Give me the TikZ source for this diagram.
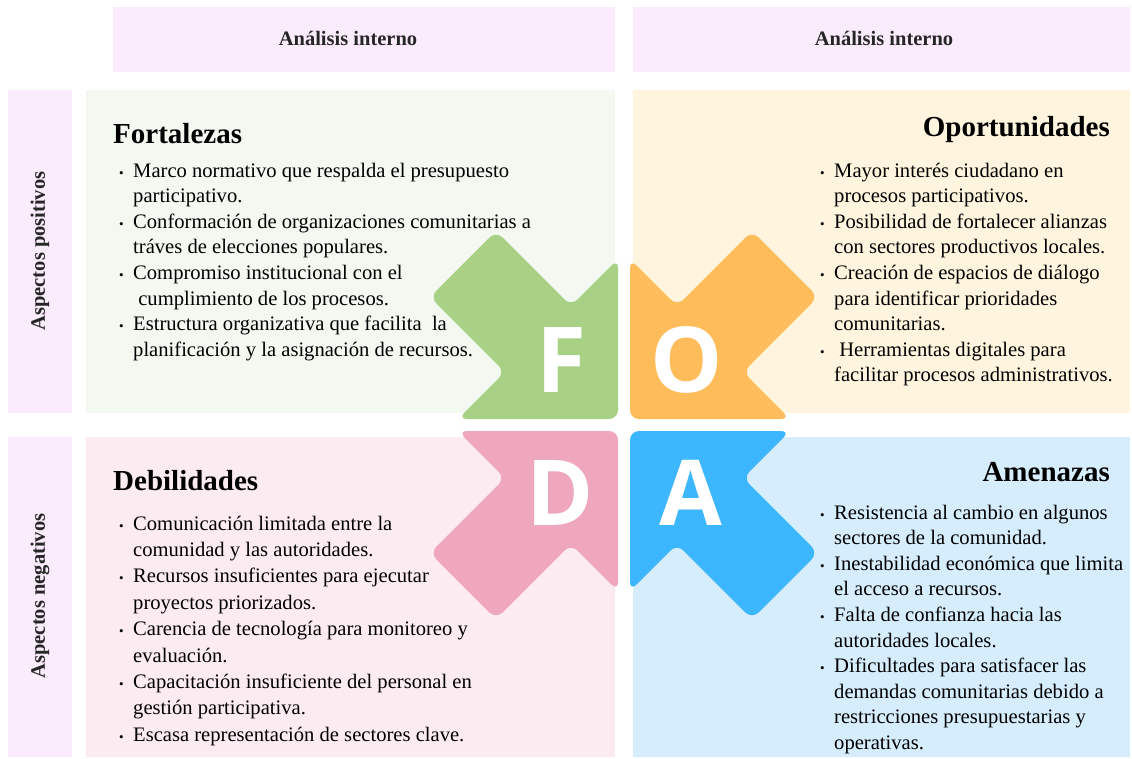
\documentclass[tikz,border=0pt]{standalone}
\usepackage{fontspec}
\setmainfont{Liberation Serif}
\newfontfamily\letterfont{Open Sans}

\definecolor{headbg}{RGB}{250,235,253}
\definecolor{fbg}{RGB}{243,248,240}
\definecolor{obg}{RGB}{255,245,222}
\definecolor{dbg}{RGB}{252,236,242}
\definecolor{abg}{RGB}{214,237,253}
\definecolor{arrF}{RGB}{168,209,134}
\definecolor{arrO}{RGB}{255,188,90}
\definecolor{arrD}{RGB}{239,167,190}
\definecolor{arrA}{RGB}{60,182,253}

\newcommand{\bul}{\makebox[14pt][l]{\fontsize{13}{13}\selectfont\textbullet}}

\begin{document}
\begin{tikzpicture}[x=1pt,y=-1pt,
  head/.style={font=\fontsize{20.5}{24}\selectfont\bfseries,text=black!85,inner sep=0pt},
  side/.style={head,rotate=90},
  title/.style={font=\fontsize{29}{34}\selectfont\bfseries,inner sep=0pt},
  body/.style={font=\fontsize{20.6}{25.6}\selectfont,inner sep=0pt,anchor=base west},
  letter/.style={font=\fontsize{91}{91}\letterfont\bfseries,text=white,inner sep=0pt}]

\useasboundingbox (0,0) rectangle (1132,758);

% headers and side bars
\fill[color=headbg] (113,7) rectangle (615,72);
\fill[color=headbg] (633,7) rectangle (1130,72);
\fill[color=headbg] (8,90) rectangle (72,413);
\fill[color=headbg] (8,437) rectangle (72,757);

\node[head] (hL) at (348,38) {Análisis interno};
\node[head] (hR) at (884,38) {Análisis interno};
\node[side] (pos) at (40,251) {Aspectos positivos};
\node[side] (neg) at (40,596) {Aspectos negativos};

% quadrants
\fill[color=fbg] (86,90) rectangle (615,413);
\fill[color=obg] (633,90) rectangle (1130,413);
\fill[color=dbg] (86,437) rectangle (615,757);
\fill[color=abg] (633,437) rectangle (1130,757);

% the four arrows
\foreach \sx/\sy/\col in {1/1/arrF,-1/1/arrO,1/-1/arrD,-1/-1/arrA}
  \fill[color=\col,rounded corners=9pt,shift={(624,425)},xscale=\sx,yscale=\sy]
    (-6,-6) -- (-6,-166) -- (-53,-119) -- (-128,-194) -- (-194,-128)
    -- (-119,-53) -- (-166,-6) -- cycle;

\node[letter] (F) at (561,360) {F};
\node[letter] (O) at (687,360) {O};
\node[letter] (D) at (560,493) {D};
\node[letter] (A) at (691,493) {A};

% titles
\node[title,anchor=base west] (tF) at (113,143) {Fortalezas};
\node[title,anchor=base east] (tO) at (1110,136) {Oportunidades};
\node[title,anchor=base west] (tD) at (113,490) {Debilidades};
\node[title,anchor=base east] (tA) at (1110,481) {Amenazas};

% lists
\node[body] (lF) at (119,177) {\begin{tabular}[t]{@{}l@{}l@{}}
\bul & Marco normativo que respalda el presupuesto\\
 & participativo.\\
\bul & Conformación de organizaciones comunitarias a\\
 & tráves de elecciones populares.\\
\bul & Compromiso institucional con el\\
 & \ cumplimiento de los procesos.\\
\bul & Estructura organizativa que facilita\ \ la\\
 & planificación y la asignación de recursos.
\end{tabular}};

\node[body] (lO) at (820,177) {\begin{tabular}[t]{@{}l@{}l@{}}
\bul & Mayor interés ciudadano en\\
 & procesos participativos.\\
\bul & Posibilidad de fortalecer alianzas\\
 & con sectores productivos locales.\\
\bul & Creación de espacios de diálogo\\
 & para identificar prioridades\\
 & comunitarias.\\
\bul & \ Herramientas digitales para\\
 & facilitar procesos administrativos.
\end{tabular}};

\node[body,font=\fontsize{20.6}{26.4}\selectfont] (lD) at (119,530) {\begin{tabular}[t]{@{}l@{}l@{}}
\bul & Comunicación limitada entre la\\
 & comunidad y las autoridades.\\
\bul & Recursos insuficientes para ejecutar\\
 & proyectos priorizados.\\
\bul & Carencia de tecnología para monitoreo y\\
 & evaluación.\\
\bul & Capacitación insuficiente del personal en\\
 & gestión participativa.\\
\bul & Escasa representación de sectores clave.
\end{tabular}};

\node[body] (lA) at (820,519) {\begin{tabular}[t]{@{}l@{}l@{}}
\bul & Resistencia al cambio en algunos\\
 & sectores de la comunidad.\\
\bul & Inestabilidad económica que limita\\
 & el acceso a recursos.\\
\bul & Falta de confianza hacia las\\
 & autoridades locales.\\
\bul & Dificultades para satisfacer las\\
 & demandas comunitarias debido a\\
 & restricciones presupuestarias y\\
 & operativas.
\end{tabular}};

\end{tikzpicture}
\end{document}
